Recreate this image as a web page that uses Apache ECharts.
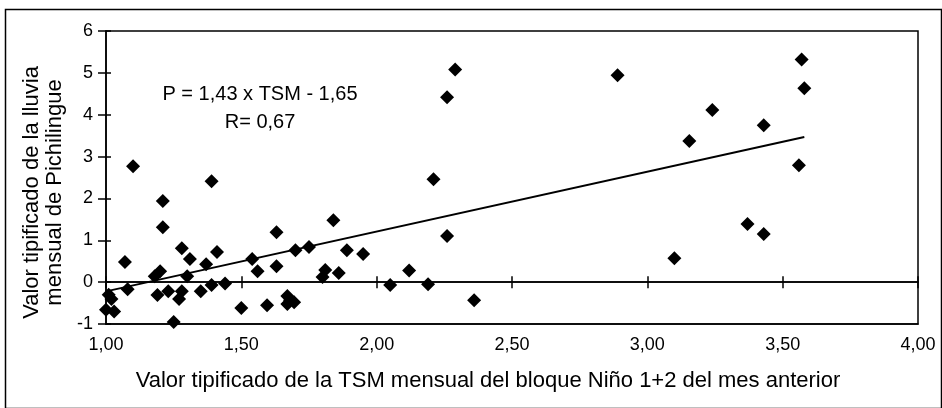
<!DOCTYPE html>
<html>
<head>
<meta charset="utf-8">
<script src="https://cdn.jsdelivr.net/npm/echarts@6/dist/echarts.min.js"></script>
<style>
html,body{margin:0;padding:0;background:#fff;}
#c{width:942px;height:408px;}
</style>
</head>
<body>
<div id="c"></div>
<script>
// TSM (Niño 1+2, previous month) standardized values
const tsm = [1.00, 1.03, 1.02, 1.01, 1.07, 1.08, 1.10, 1.18, 1.20, 1.19,
             1.21, 1.21, 1.23, 1.25, 1.27, 1.28, 1.28, 1.30, 1.31, 1.35,
             1.37, 1.39, 1.39, 1.41, 1.44, 1.50, 1.54, 1.56, 1.595, 1.63,
             1.63, 1.67, 1.68, 1.67, 1.695, 1.70, 1.75, 1.80, 1.81, 1.84,
             1.86, 1.89, 1.95, 2.05, 2.12, 2.19, 2.21, 2.26, 2.26, 2.29,
             2.36, 2.89, 3.10, 3.155, 3.24, 3.37, 3.43, 3.43, 3.56, 3.57, 3.58];
// Pichilingue monthly rainfall standardized values
const rain = [-0.66, -0.70, -0.40, -0.30, 0.48, -0.17, 2.77, 0.14, 0.26, -0.31,
              1.94, 1.31, -0.22, -0.95, -0.40, -0.22, 0.81, 0.14, 0.55, -0.22,
              0.43, 2.41, -0.07, 0.72, -0.03, -0.62, 0.55, 0.26, -0.55, 1.19,
              0.38, -0.33, -0.43, -0.52, -0.48, 0.76, 0.84, 0.12, 0.29, 1.48,
              0.22, 0.76, 0.67, -0.07, 0.28, -0.05, 2.46, 4.42, 1.10, 5.08,
              -0.43, 4.94, 0.57, 3.37, 4.11, 1.39, 3.75, 1.15, 2.79, 5.32, 4.63];
const slope = 1.43, intercept = -1.65;
const xTicks = [1.0, 4.0, 0.5];   // min, max, interval
const yTicks = [-1, 6, 1];
const eqText = 'P = 1,43 x TSM - 1,65';
const rText = 'R= 0,67';
const xTitle = 'Valor tipificado de la TSM mensual del bloque Niño 1+2 del mes anterior';
const yTitle = 'Valor tipificado de la lluvia\nmensual de Pichilingue';

const points = tsm.map((x, i) => [x, rain[i]]);
const x0 = Math.min(...tsm), x1 = Math.max(...tsm);
const fit = [[x0, slope * x0 + intercept], [x1, slope * x1 + intercept]];

const FONT = '"Liberation Sans", Arial, sans-serif';
const black = '#000';

const baseX = {type: 'value', min: xTicks[0], max: xTicks[1], interval: xTicks[2], splitLine: {show: false}};
const baseY = {type: 'value', min: yTicks[0], max: yTicks[1], interval: yTicks[2], splitLine: {show: false}};

const chart = echarts.init(document.getElementById('c'), null, {renderer: 'canvas'});
chart.setOption({
  animation: false,
  backgroundColor: '#fff',
  grid: {left: 106, right: 24, top: 31, bottom: 84, show: true, borderColor: black, borderWidth: 1.5, backgroundColor: 'transparent'},
  xAxis: [
    Object.assign({}, baseX, {
      position: 'bottom',
      axisLine: {onZero: false, lineStyle: {color: black, width: 1.5}},
      axisTick: {show: false},
      axisLabel: {color: black, fontFamily: FONT, fontSize: 18, margin: 12,
        formatter: v => v.toFixed(2).replace('.', ',')},
      name: xTitle, nameLocation: 'middle', nameGap: 46,
      nameTextStyle: {color: black, fontFamily: FONT, fontSize: 22, padding: [0, 48, 0, 0]}
    }),
    Object.assign({}, baseX, {
      position: 'bottom',
      axisLine: {onZero: true, onZeroAxisIndex: 0, lineStyle: {color: black, width: 1.5}},
      axisTick: {show: true, inside: false, length: 6, lineStyle: {color: black, width: 1.5}},
      axisLabel: {show: false}
    }),
    Object.assign({}, baseX, {
      position: 'bottom',
      axisLine: {onZero: true, onZeroAxisIndex: 0, lineStyle: {color: black, width: 1.5}},
      axisTick: {show: true, inside: true, length: 6, lineStyle: {color: black, width: 1.5}},
      axisLabel: {show: false}
    })
  ],
  yAxis: [
    Object.assign({}, baseY, {
      position: 'left',
      axisLine: {show: true, onZero: false, lineStyle: {color: black, width: 1.5}},
      axisTick: {show: true, inside: false, length: 8, lineStyle: {color: black, width: 1.5}},
      axisLabel: {color: black, fontFamily: FONT, fontSize: 18, margin: 13},
      name: yTitle, nameLocation: 'middle', nameGap: 40, nameRotate: 90,
      nameTextStyle: {color: black, fontFamily: FONT, fontSize: 22, lineHeight: 23, align: 'center', padding: [0, 30, 0, 0]}
    }),
    Object.assign({}, baseY, {
      position: 'left',
      axisLine: {show: false, onZero: false},
      axisTick: {show: true, inside: true, length: 5, lineStyle: {color: black, width: 1.5}},
      axisLabel: {show: false}
    })
  ],
  graphic: [
    {type: 'rect', left: 3, top: 7, shape: {width: 936, height: 399}, style: {fill: 'none', stroke: black, lineWidth: 1.5}, silent: true},
    {type: 'text', x: 260, y: 94, style: {text: eqText, font: '20px ' + FONT, fill: black, align: 'center', verticalAlign: 'middle'}},
    {type: 'text', x: 260, y: 122, style: {text: rText, font: '20px ' + FONT, fill: black, align: 'center', verticalAlign: 'middle'}}
  ],
  series: [
    {type: 'line', data: fit, xAxisIndex: 0, yAxisIndex: 0, symbol: 'none',
     lineStyle: {color: black, width: 2}, z: 3},
    {type: 'scatter', data: points, xAxisIndex: 0, yAxisIndex: 0, symbol: 'diamond', symbolSize: 14,
     itemStyle: {color: black, opacity: 1}, z: 4}
  ]
});
</script>
</body>
</html>
